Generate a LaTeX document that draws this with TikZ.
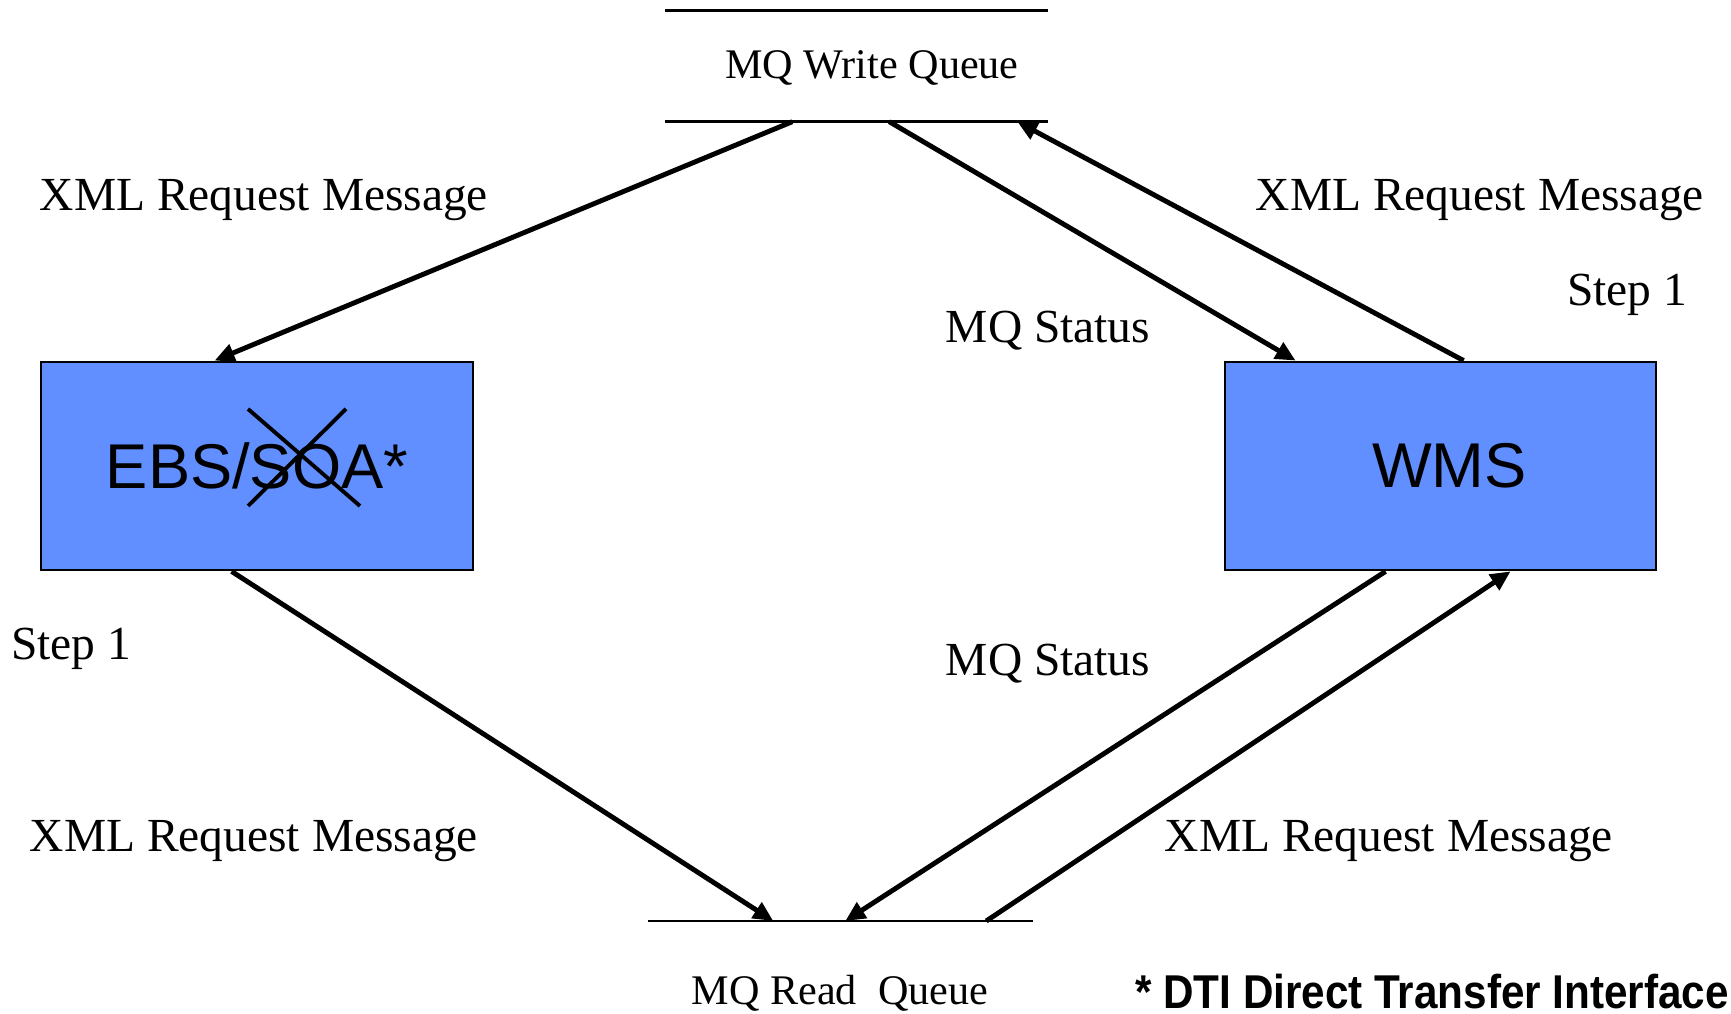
\documentclass[tikz,border=0pt]{standalone}
\usepackage{fontspec}
\setmainfont{Liberation Serif}
\setsansfont{Liberation Sans}
\usetikzlibrary{arrows.meta}
\definecolor{boxblue}{RGB}{97,143,255}

\begin{document}
\begin{tikzpicture}[
    sysbox/.style={draw, line width=0.8pt, fill=boxblue, minimum width=4.32cm, minimum height=2.08cm, inner sep=0pt, font=\sffamily\fontsize{18}{22}\selectfont},
    queue/.style={inner sep=0pt, font=\fontsize{12}{14}\selectfont},
    qline/.style={line width=0.8pt},
    msg/.style={font=\fontsize{13.5}{16}\selectfont},
    flow/.style={line width=1.4pt, -{Triangle[length=2mm,width=1.8mm]}}
]
\useasboundingbox (0,0) rectangle (17.31,10.14);

% Queues
\node[queue, minimum width=3.81cm, minimum height=1.10cm] (wq) at (8.565,9.48) {};
\node[queue] (wqtext) at (8.72,9.46) {MQ Write Queue};
\draw[qline] (wq.north west) -- (wq.north east);
\draw[qline] (wq.south west) -- (wq.south east);

\node[queue, minimum width=3.83cm, minimum height=0pt, anchor=north] (rq) at (8.405,0.93) {};
\node[queue, anchor=base] (rqtext) at (8.40,0.09) {MQ Read\ \ Queue};
\draw[qline] (rq.north west) -- (rq.north east);

% Systems
\node[sysbox] (ebs) at (2.57,5.48) {EBS/SOA*};
\node[sysbox, minimum width=4.31cm] (wms) at (14.405,5.48) {\hspace{0.18cm}WMS};

% SOA crossed out
\draw[line width=1.1pt] ([shift={(-0.09,0.57)}]ebs.center) -- ([shift={(1.03,-0.40)}]ebs.center);
\draw[line width=1.1pt] ([shift={(0.89,0.57)}]ebs.center) -- ([shift={(-0.09,-0.40)}]ebs.center);

% Flows
\draw[flow] ([xshift=1.27cm]wq.south west) -- ([xshift=1.75cm]ebs.north west);
\draw[flow] ([xshift=2.24cm]wq.south west) -- ([xshift=0.72cm]wms.north west);
\draw[flow] ([xshift=2.40cm]wms.north west) -- ([xshift=3.52cm]wq.south west);
\draw[flow] ([xshift=1.92cm]ebs.south west) -- ([xshift=1.25cm]rq.north west);
\draw[flow] ([xshift=1.62cm]wms.south west) -- ([xshift=1.97cm]rq.north west);
\draw[flow] ([xshift=3.38cm]rq.north west) -- ([xshift=2.87cm]wms.south west);

% Labels
\node[msg] (req1) at (2.64,8.14) {XML Request Message};
\node[msg] (req2) at (14.80,8.14) {XML Request Message};
\node[msg] (req3) at (2.54,1.73) {XML Request Message};
\node[msg] (req4) at (13.89,1.73) {XML Request Message};
\node[msg] (stat1) at (10.48,6.83) {MQ Status};
\node[msg] (stat2) at (10.48,3.50) {MQ Status};
\node[msg] (step1) at (16.27,7.19) {Step 1};
\node[msg] (step2) at (0.71,3.65) {Step 1};

% Footnote
\node[font=\sffamily\bfseries\fontsize{13.5}{16}\selectfont] (note) at (14.32,0.22) {\scalebox{0.89}[1]{* DTI Direct Transfer Interface}};
\end{tikzpicture}
\end{document}
